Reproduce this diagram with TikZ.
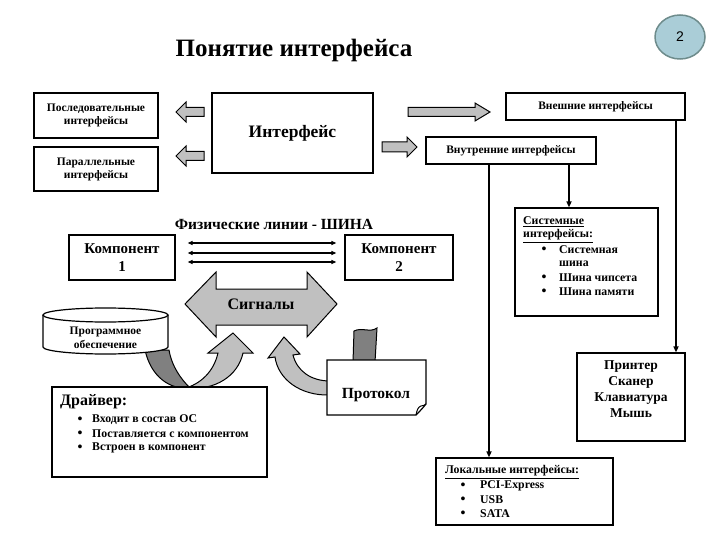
\documentclass[tikz,border=0pt]{standalone}
\usepackage{fontspec}
\setmainfont{Liberation Serif}
\newfontfamily\numfont{Liberation Sans}
\usetikzlibrary{arrows.meta,shapes.geometric}
\definecolor{lgray}{RGB}{192,192,192}
\definecolor{dgray}{RGB}{128,128,128}
\definecolor{circfill}{RGB}{170,205,215}
\definecolor{circdraw}{RGB}{110,140,140}
\begin{document}
\begin{tikzpicture}[x=1pt,y=-1pt,
  box/.style={draw, line width=1.2pt, fill=white, inner sep=0pt, align=center},
  small/.style={font=\bfseries\fontsize{11.5}{13}\selectfont},
  conn/.style={line width=1.6pt, -{Triangle[length=6pt,width=5pt]}},
  blockarrow/.style={draw, line width=1pt, fill=lgray, line join=miter},
  busline/.style={line width=1.2pt, {Triangle[length=5pt,width=4pt]}-{Triangle[length=5pt,width=4pt]}},
  lbl/.style={font=\bfseries\fontsize{11.8}{13}\selectfont, inner sep=0pt, anchor=west},
  bul/.style={font=\bfseries\fontsize{14}{14}\selectfont, inner sep=0pt},
]
\useasboundingbox (0,0) rectangle (720,540);

% title and page number
\node[font=\bfseries\fontsize{25}{29}\selectfont] (title) at (294,50) {Понятие интерфейса};
\node[ellipse, draw=circdraw, line width=1.5pt, fill=circfill, minimum width=50pt, minimum height=44pt,
      font=\numfont\fontsize{14}{16}\selectfont] (num) at (680,37) {2};

% top boxes
\node[box, small, minimum width=124pt, minimum height=45pt] (seq) at (96,115.5) {Последовательные\\интерфейсы};
\node[box, small, minimum width=124pt, minimum height=44pt] (par) at (96,169) {Параллельные\\интерфейсы};
\node[box, font=\bfseries\fontsize{17.5}{20}\selectfont, minimum width=161pt, minimum height=80pt] (iface) at (292.5,133) {Интерфейс};
\node[box, small, minimum width=179pt, minimum height=27pt] (ext) at (595.5,106.5) {Внешние интерфейсы};
\node[box, small, minimum width=170pt, minimum height=27pt] (int) at (511,150.5) {Внутренние интерфейсы};

% block arrows at top
\draw[blockarrow] (176,112) -- (186,102) -- (186,107.5) -- (204,107.5) -- (204,116.5) -- (186,116.5) -- (186,122) -- cycle;
\draw[blockarrow] (176,156) -- (186,146) -- (186,151.5) -- (204,151.5) -- (204,160.5) -- (186,160.5) -- (186,166) -- cycle;
\draw[blockarrow] (408,107.5) -- (475,107.5) -- (475,103) -- (490,112) -- (475,121) -- (475,116.5) -- (408,116.5) -- cycle;
\draw[blockarrow] (382,142) -- (407,142) -- (407,137) -- (417,147) -- (407,157) -- (407,152) -- (382,152) -- cycle;

% right-hand boxes
\node[box, minimum width=143pt, minimum height=108pt] (sys) at (586.5,262) {};
\node[lbl] (sys1) at (523,222) {\underline{Системные}};
\node[lbl] (sys2) at (523,236) {\underline{интерфейсы:}};
\node[bul] (sb1) at (544,250) {\textbullet};
\node[lbl] (sys3) at (559,250) {Системная};
\node[lbl] (sys4) at (559,264) {шина};
\node[bul] (sb2) at (544,278) {\textbullet};
\node[lbl] (sys5) at (559,278) {Шина чипсета};
\node[bul] (sb3) at (544,292) {\textbullet};
\node[lbl] (sys6) at (559,292) {Шина памяти};

\node[box, minimum width=108pt, minimum height=88pt] (dev) at (631,397) {};
\node[font=\bfseries\fontsize{13.5}{16}\selectfont, align=center, inner sep=0pt] (devt) at (631,389) {Принтер\\Сканер\\Клавиатура\\Мышь};

\node[box, minimum width=177pt, minimum height=67pt] (loc) at (524.5,491.5) {};
\node[lbl] (loc1) at (445,472) {\underline{Локальные интерфейсы:}};
\node[bul] (lb1) at (463,486) {\textbullet};
\node[lbl] (loc2) at (480,486) {PCI-Express};
\node[bul] (lb2) at (463,500) {\textbullet};
\node[lbl] (loc3) at (480,500) {USB};
\node[bul] (lb3) at (463,514) {\textbullet};
\node[lbl] (loc4) at (480,514) {SATA};

% connectors
\draw[conn] ([xshift=-22pt]int.south) -- ([xshift=-22pt]int.south |- loc.north);
\draw[conn] ([xshift=58pt]int.south) -- ([xshift=58pt]int.south |- sys.north);
\draw[conn] ([xshift=80.5pt]ext.south) -- ([xshift=80.5pt]ext.south |- dev.north);

% bus
\node[font=\bfseries\fontsize{15.5}{18}\selectfont] (bus) at (274,224) {Физические линии - ШИНА};
\node[box, font=\bfseries\fontsize{15}{18}\selectfont, minimum width=106pt, minimum height=45pt] (c1) at (122,257.5) {Компонент\\1};
\node[box, font=\bfseries\fontsize{15}{18}\selectfont, minimum width=108pt, minimum height=45pt] (c2) at (399,257.5) {Компонент\\2};
\draw[busline] ([xshift=12pt,yshift=14.5pt]c1.east) -- ([xshift=-8pt,yshift=14.5pt]c2.west);
\draw[busline] ([xshift=12pt,yshift=4.5pt]c1.east) -- ([xshift=-8pt,yshift=4.5pt]c2.west);
\draw[busline] ([xshift=12pt,yshift=-4.5pt]c1.east) -- ([xshift=-8pt,yshift=-4.5pt]c2.west);

% signals arrow
\draw[blockarrow] (185,304) -- (216,272) -- (216,289) -- (307,289) -- (307,272) -- (337,304) -- (307,337) -- (307,325) -- (216,325) -- (216,337) -- cycle;
\node[font=\bfseries\fontsize{16}{18}\selectfont] (sig) at (261,304) {Сигналы};

% ribbons
\draw[line width=1pt, fill=dgray] (145,350) .. controls (151,377) and (170,390) .. (190,388)
   .. controls (181,379) and (172,367) .. (169,350) -- cycle;
\draw[line width=1pt, fill=lgray, line join=miter] (186,388) .. controls (205,382) and (215,367) .. (218,353)
   -- (208,353) -- (233,333) -- (253,353) -- (243,353) .. controls (238,376) and (215,391) .. (186,388) -- cycle;
\draw[line width=1pt, fill=lgray, line join=miter] (275,357) .. controls (278,379) and (300,396) .. (330,395)
   -- (330,381) .. controls (311,381) and (297,371) .. (293,355) -- (300,354) -- (284,337) -- (268,358) -- cycle;
\draw[line width=1pt, fill=dgray] (354,331) .. controls (362,327) and (370,333) .. (377,328) -- (375,362) -- (353,362) -- cycle;

% software cylinder
\draw[line width=1.2pt, fill=white] (43,315) -- (43,347) arc[start angle=180, end angle=360, x radius=62.5pt, y radius=7pt] -- (168,315);
\draw[line width=1.2pt, fill=white] (105.5,315) ellipse[x radius=62.5pt, y radius=7pt];
\node[font=\bfseries\fontsize{11.5}{13.5}\selectfont, align=center, inner sep=0pt] (sw) at (105.5,338) {Программное\\обеспечение};

% protocol document
\draw[line width=1.2pt, fill=white] (327,360) -- (426,360) -- (426,404) .. controls (422,409) and (419,412) .. (416,415) -- (327,415) -- cycle;
\draw[line width=1pt] (416,415) .. controls (417,410) and (418,407) .. (421,406) .. controls (423,406) and (425,405) .. (426,404);
\node[font=\bfseries\fontsize{15.5}{18}\selectfont, inner sep=0pt] (proto) at (376,395) {Протокол};

% driver box
\node[box, minimum width=215pt, minimum height=90pt] (drv) at (159.5,432) {};
\node[font=\bfseries\fontsize{16}{18}\selectfont, inner sep=0pt, anchor=west] (drv0) at (60,402) {Драйвер:};
\node[bul] (db1) at (80,420) {\textbullet};
\node[lbl] (drv1) at (92,420) {Входит в состав ОС};
\node[bul] (db2) at (80,434) {\textbullet};
\node[lbl] (drv2) at (92,434) {Поставляется с компонентом};
\node[bul] (db3) at (80,448) {\textbullet};
\node[lbl] (drv3) at (92,448) {Встроен в компонент};
\end{tikzpicture}
\end{document}
